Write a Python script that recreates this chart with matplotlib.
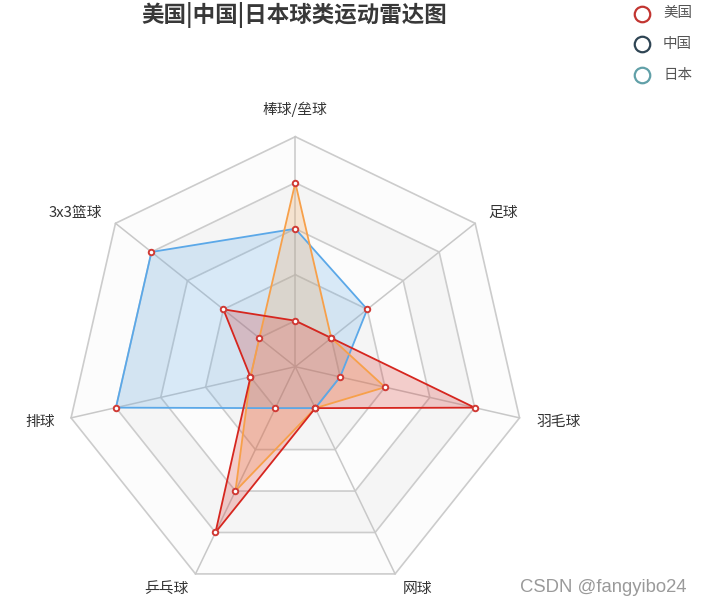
import numpy as np
import matplotlib
matplotlib.use("Agg")
import matplotlib.pyplot as plt
from matplotlib.patches import Polygon

plt.rcParams['font.family'] = ['Noto Sans CJK SC', 'DejaVu Sans']

# ---------------- data ----------------
title = "美国|中国|日本球类运动雷达图"
indicators = ["棒球/垒球", "足球", "羽毛球", "网球", "乒乓球", "排球", "3x3篮球"]
max_value = 5
series_names = ["美国", "中国", "日本"]
usa = [1, 1, 4, 1, 4, 1, 2]
china = [4, 1, 2, 1, 3, 1, 1]
japan = [3, 2, 1, 1, 1, 4, 4]
legend_colors = ["#c23531", "#2f4554", "#61a0a8"]
watermark = "CSDN @fangyibo24"

# ---------------- layout ----------------
W, H = 704, 609
CX, CY = 295.3, 366.7          # radar centre in pixels (from top-left)
R = 230.0                      # radar radius in pixels
PT = 0.72                      # px -> pt at dpi 100

fig = plt.figure(figsize=(W / 100, H / 100), dpi=100)
ax = fig.add_axes([0, 0, 1, 1])
ax.set_xlim(-CX, W - CX)
ax.set_ylim(-(H - CY), CY)
ax.axis('off')

n = len(indicators)
ang = np.arange(n) * 2 * np.pi / n   # clockwise from top
ux, uy = np.sin(ang), np.cos(ang)

# split areas
band_colors = ["#fcfcfc", "#f5f5f5"]
for k in range(5, 0, -1):
    rr = R * k / 5
    poly = Polygon(np.column_stack([ux * rr, uy * rr]), closed=True,
                   facecolor=band_colors[(k - 1) % 2], edgecolor='none', zorder=1)
    ax.add_patch(poly)
# split lines
for k in range(1, 6):
    rr = R * k / 5
    xs = np.append(ux * rr, ux[0] * rr)
    ys = np.append(uy * rr, uy[0] * rr)
    ax.plot(xs, ys, color="#cccccc", lw=1.2, zorder=2)
# spokes
for i in range(n):
    ax.plot([0, ux[i] * R], [0, uy[i] * R], color="#c8c8c8", lw=1.1, zorder=2)

# series
styles = [
    (japan, "#5ba8e8"),
    (china, "#f7a04a"),
    (usa, "#d6261f"),
]
for z, (vals, col) in enumerate(styles):
    r = np.array(vals) / max_value * R
    px, py = ux * r, uy * r
    ax.add_patch(Polygon(np.column_stack([px, py]), closed=True,
                         facecolor=col, alpha=0.22, edgecolor='none', zorder=3 + z))
    ax.plot(np.append(px, px[0]), np.append(py, py[0]), color=col, lw=1.3, zorder=6 + z)
for vals in (japan, china, usa):
    r = np.array(vals) / max_value * R
    ax.plot(ux * r, uy * r, linestyle='none', marker='o', markersize=5.5 * PT,
            markerfacecolor='white', markeredgecolor='#d03a35', markeredgewidth=1.4,
            zorder=10)

# indicator names
for i, name in enumerate(indicators):
    if abs(ux[i]) < 0.01:
        d = R + 27
        ha = 'center'
    else:
        d = R + 17
        ha = 'left' if ux[i] > 0 else 'right'
    ax.text(ux[i] * d, uy[i] * d, name, ha=ha, va='center',
            fontsize=14.8 * PT, color='#333333', zorder=11)

# title
fig.text(294 / W, 1 - 14.5 / H, title, ha='center', va='center',
         fontsize=22.5 * PT, fontweight='bold', color='#383838')

# legend
for i, (name, col) in enumerate(zip(series_names, legend_colors)):
    ly = 13.5 + i * 30.5
    ax.plot(642 - CX, CY - ly, marker='o', markersize=15.5 * PT,
            markerfacecolor='white', markeredgecolor=col, markeredgewidth=1.6,
            zorder=12, clip_on=False)
    ax.text(663 - CX, CY - ly, name, ha='left', va='center',
            fontsize=14.5 * PT, color='#555555')

# watermark
fig.text(686 / W, 1 - 587 / H, watermark, ha='right', va='center',
         fontsize=18.5 * PT, color='#9a9a9a', family=['Liberation Sans', 'DejaVu Sans'])

fig.savefig("out.png", dpi=100)
